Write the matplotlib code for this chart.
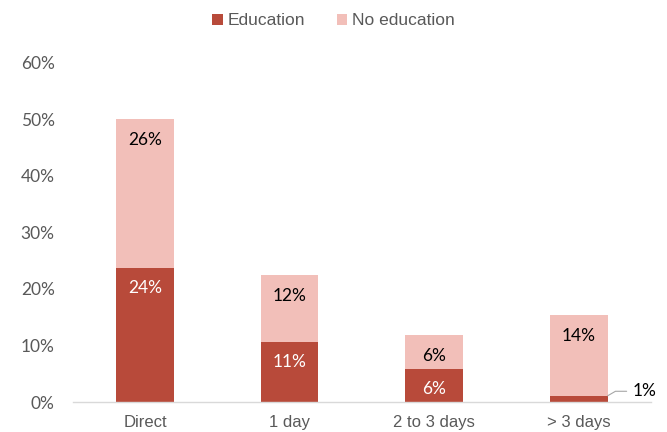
import numpy as np
import matplotlib.pyplot as plt

categories = ["Direct", "1 day", "2 to 3 days", "> 3 days"]
education = [23.7, 10.6, 5.8, 1.1]
no_education = [26.3, 11.9, 6.0, 14.3]
edu_labels = ["24%", "11%", "6%", "1%"]
noedu_labels = ["26%", "12%", "6%", "14%"]

edu_color = "#B84A3A"
noedu_color = "#F2BFB9"
grey = "#595959"

fig = plt.figure(figsize=(6.67, 4.32), dpi=100)
ax = fig.add_axes([0.109, 0.0694, 0.867, 0.785])

x = np.arange(len(categories))
b1 = ax.bar(x, education, width=0.4, color=edu_color, label="Education", zorder=2)
b2 = ax.bar(x, no_education, width=0.4, bottom=education, color=noedu_color,
            label="No education", zorder=2)

ax.set_xlim(-0.5, len(categories) - 0.5)
ax.set_ylim(0, 60)
ax.set_yticks(range(0, 61, 10))
ax.set_yticklabels([f"{v}%" for v in range(0, 61, 10)], fontfamily="Lato",
                   fontsize=12.5, color=grey)
ax.set_xticks(x)
ax.set_xticklabels(categories, fontfamily="Liberation Sans", fontsize=12, color=grey)
ax.tick_params(axis="both", length=0)
ax.tick_params(axis="y", pad=13)
ax.tick_params(axis="x", pad=9)

for s in ["top", "right", "left"]:
    ax.spines[s].set_visible(False)
ax.spines["bottom"].set_color("#D9D9D9")
ax.spines["bottom"].set_linewidth(1)

for i in range(len(categories)):
    top_e = education[i]
    top_n = education[i] + no_education[i]
    if i < 3:
        ax.annotate(edu_labels[i], (x[i], top_e), xytext=(0, -20),
                    textcoords="offset pixels", ha="center", va="center",
                    color="white", fontfamily="Lato", fontsize=12.5)
    ax.annotate(noedu_labels[i], (x[i], top_n), xytext=(0, -21),
                textcoords="offset pixels", ha="center", va="center",
                color="black", fontfamily="Lato", fontsize=12.5)

# leader line for the tiny segment
ax.annotate(edu_labels[3], (x[3] + 0.2, education[3]), xytext=(x[3] + 0.37, 1.9),
            ha="left", va="center", color="black", fontfamily="Lato", fontsize=12.5,
            arrowprops=dict(arrowstyle="-", color="#A6A6A6", lw=0.8,
                            connectionstyle="angle,angleA=0,angleB=30,rad=0",
                            shrinkA=2, shrinkB=0))

fig.legend(handles=[b1, b2], loc="upper center", bbox_to_anchor=(0.5, 1.005),
           ncol=2, frameon=False, handlelength=0.6, handleheight=0.6,
           handletextpad=0.3, columnspacing=1.8,
           prop={"family": "Liberation Sans", "size": 12.5}, labelcolor=grey)

fig.savefig("out.png", dpi=100)
